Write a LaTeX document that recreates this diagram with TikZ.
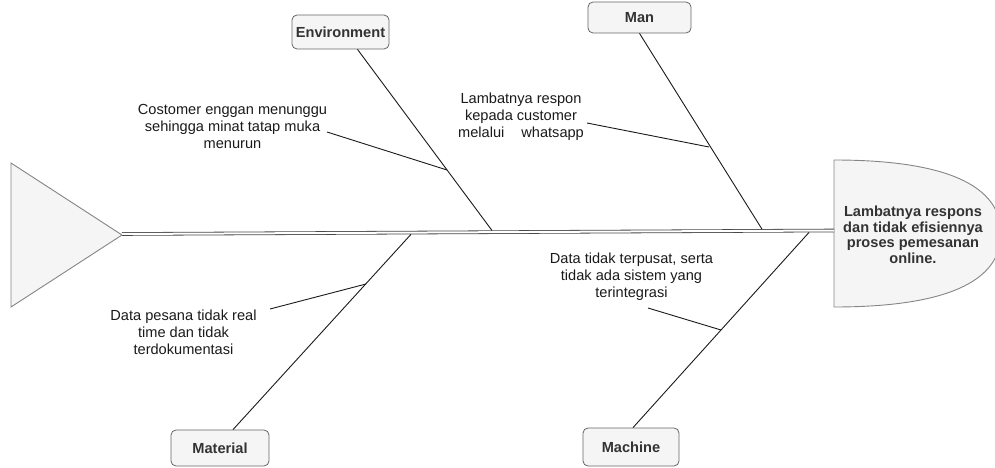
\documentclass[tikz,border=0pt]{standalone}
\usepackage{fontspec}
\setmainfont{Liberation Sans}
\definecolor{boxfill}{HTML}{F5F5F5}
\definecolor{boxdraw}{HTML}{666666}
\definecolor{txt}{HTML}{333333}
\definecolor{bonecol}{HTML}{1A1A1A}
\begin{document}
\begin{tikzpicture}[x=1pt,y=-1pt,
  cat/.style={draw=boxdraw, fill=boxfill, rounded corners=5pt, line width=0.8pt, text=txt,
    font=\bfseries\fontsize{14.6}{17}\selectfont, inner sep=0pt},
  note/.style={align=center, font=\fontsize{14.6}{17}\selectfont, text=bonecol, inner sep=0pt},
  headtext/.style={align=center, font=\bfseries\fontsize{14.6}{15.5}\selectfont, text=txt, inner sep=0pt},
  bone/.style={draw=bonecol, line width=0.9pt},
  shapestyle/.style={draw=boxdraw!80, fill=boxfill, line width=0.9pt},
  spine/.style={draw=bonecol!80, double=white, double distance=2pt, line width=0.8pt}
]
\useasboundingbox (0,0) rectangle (995,468);

% tail triangle
\draw[shapestyle] (11,163) -- (122,235) -- (11,307) -- cycle;
\coordinate (tip) at (122,234);

% head shape (partly beyond the right edge, as in the reference)
\begin{scope}
\clip (0,0) rectangle (995,468);
\draw[shapestyle] (834,160) .. controls (945,160) and (1001,185) .. (1001,233.5)
  .. controls (1001,282) and (945,307) .. (834,307) -- cycle;
\end{scope}
\coordinate (headw) at (834,230.5);
\node[headtext] (head) at (913,235) {Lambatnya respons\\dan tidak efisiennya\\proses pemesanan\\online.};

% spine
\draw[spine] (tip) -- (headw);

% category boxes
\node[cat, minimum width=97pt, minimum height=34pt] (env) at (340.5,32) {Environment};
\node[cat, minimum width=103pt, minimum height=31pt] (man) at (639.5,17.5) {Man};
\node[cat, minimum width=98pt, minimum height=36pt] (mat) at (220,448) {Material};
\node[cat, minimum width=96pt, minimum height=38pt] (mac) at (631,447) {Machine};

% spine contact points
\coordinate (senv) at (492,230.5);
\coordinate (sman) at (762,229.2);
\coordinate (smat) at (411,234.3);
\coordinate (smac) at (809,232.4);

% bones
\draw[bone] ([xshift=17pt]env.south) -- (senv);
\draw[bone] (man.south) -- (sman);
\draw[bone] ([xshift=13pt]mat.north) -- (smat);
\draw[bone] ([xshift=2pt]mac.north) -- (smac);

% cause notes
\node[note] (envt) at (232.5,126) {Costomer enggan menunggu\\sehingga minat tatap muka\\menurun};
\node[note] (mant) at (521,117) {Lambatnya respon\\kepada customer\\melalui\hspace{17pt}whatsapp};
\node[note] (matt) at (183.5,332) {Data pesana tidak real\\time dan tidak\\terdokumentasi};
\node[note] (mact) at (631.5,277) {Data tidak terpusat, serta\\tidak ada sistem yang\\terintegrasi};

% sub-bone ends
\coordinate (aenv) at (327,132);
\coordinate (jenv) at (447,170);
\coordinate (aman) at (587,123);
\coordinate (jman) at (709,147);
\coordinate (amat) at (270,309);
\coordinate (jmat) at (366,284);
\coordinate (amac) at (648,308);
\coordinate (jmac) at (721,330);

\draw[bone] (aenv) -- (jenv);
\draw[bone] (aman) -- (jman);
\draw[bone] (amat) -- (jmat);
\draw[bone] (amac) -- (jmac);
\end{tikzpicture}
\end{document}
